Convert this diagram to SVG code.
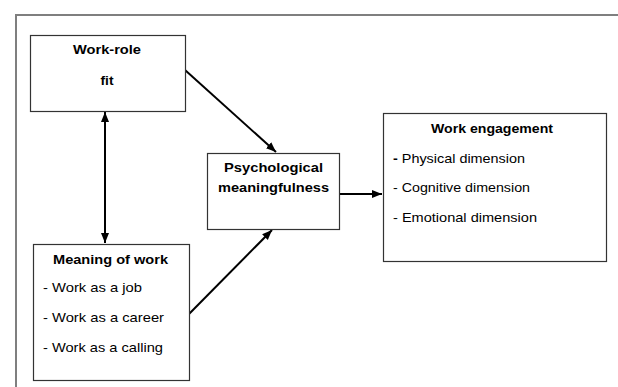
<svg xmlns="http://www.w3.org/2000/svg" width="618" height="387" viewBox="0 0 618 387">
<defs>
<marker id="ah" markerUnits="userSpaceOnUse" markerWidth="10" markerHeight="10" viewBox="0 0 10 10" refX="10" refY="5" orient="auto-start-reverse">
<path d="M0,1 L10,5 L0,9 Z" fill="#000"/>
</marker>
</defs>
<style>
.box{fill:#fff;stroke:#333;stroke-width:1.2}
.t{font-family:"Liberation Sans",Arial,sans-serif;font-size:13px;fill:#000}
.b{font-weight:bold}
.c{text-anchor:middle}
.con{stroke:#000;stroke-width:2;fill:none}
</style>
<rect width="618" height="387" fill="#fff"/>
<path d="M16,387 V15 H618" fill="none" stroke="#7f7f7f" stroke-width="2"/>
<g id="connectors">
<line class="con" x1="105" y1="112" x2="105" y2="243" marker-start="url(#ah)" marker-end="url(#ah)"/>
<line class="con" x1="185" y1="70" x2="276" y2="152" marker-end="url(#ah)"/>
<line class="con" x1="189" y1="314" x2="272" y2="230" marker-end="url(#ah)"/>
<line class="con" x1="339" y1="194" x2="382" y2="194" marker-end="url(#ah)"/>
</g>
<g id="work-role-fit">
<rect class="box" x="30.5" y="35.5" width="155" height="76"/>
<text class="t b c" x="107" y="54" textLength="68" lengthAdjust="spacingAndGlyphs">Work-role</text>
<text class="t b c" x="107" y="85" textLength="13" lengthAdjust="spacingAndGlyphs">fit</text>
</g>
<g id="meaning-of-work">
<rect class="box" x="33.5" y="244.5" width="156" height="136"/>
<text class="t b" x="53" y="264" textLength="115" lengthAdjust="spacingAndGlyphs">Meaning of work</text>
<text class="t" x="43" y="292" textLength="99" lengthAdjust="spacingAndGlyphs">- Work as a job</text>
<text class="t" x="43" y="322" textLength="121" lengthAdjust="spacingAndGlyphs">- Work as a career</text>
<text class="t" x="43" y="352" textLength="120" lengthAdjust="spacingAndGlyphs">- Work as a calling</text>
</g>
<g id="psychological-meaningfulness">
<rect class="box" x="207.5" y="153.5" width="132" height="76"/>
<text class="t b" x="224" y="172" textLength="99" lengthAdjust="spacingAndGlyphs">Psychological</text>
<text class="t b" x="218" y="192" textLength="111" lengthAdjust="spacingAndGlyphs">meaningfulness</text>
</g>
<g id="work-engagement">
<rect class="box" x="383.5" y="113.5" width="223" height="148"/>
<text class="t b" x="431" y="133" textLength="122" lengthAdjust="spacingAndGlyphs">Work engagement</text>
<text class="t" x="393" y="163" textLength="132" lengthAdjust="spacingAndGlyphs"><tspan font-weight="bold">-</tspan> Physical dimension</text>
<text class="t" x="393" y="192" textLength="137" lengthAdjust="spacingAndGlyphs">- Cognitive dimension</text>
<text class="t" x="393" y="222" textLength="144" lengthAdjust="spacingAndGlyphs">- Emotional dimension</text>
</g>
</svg>
